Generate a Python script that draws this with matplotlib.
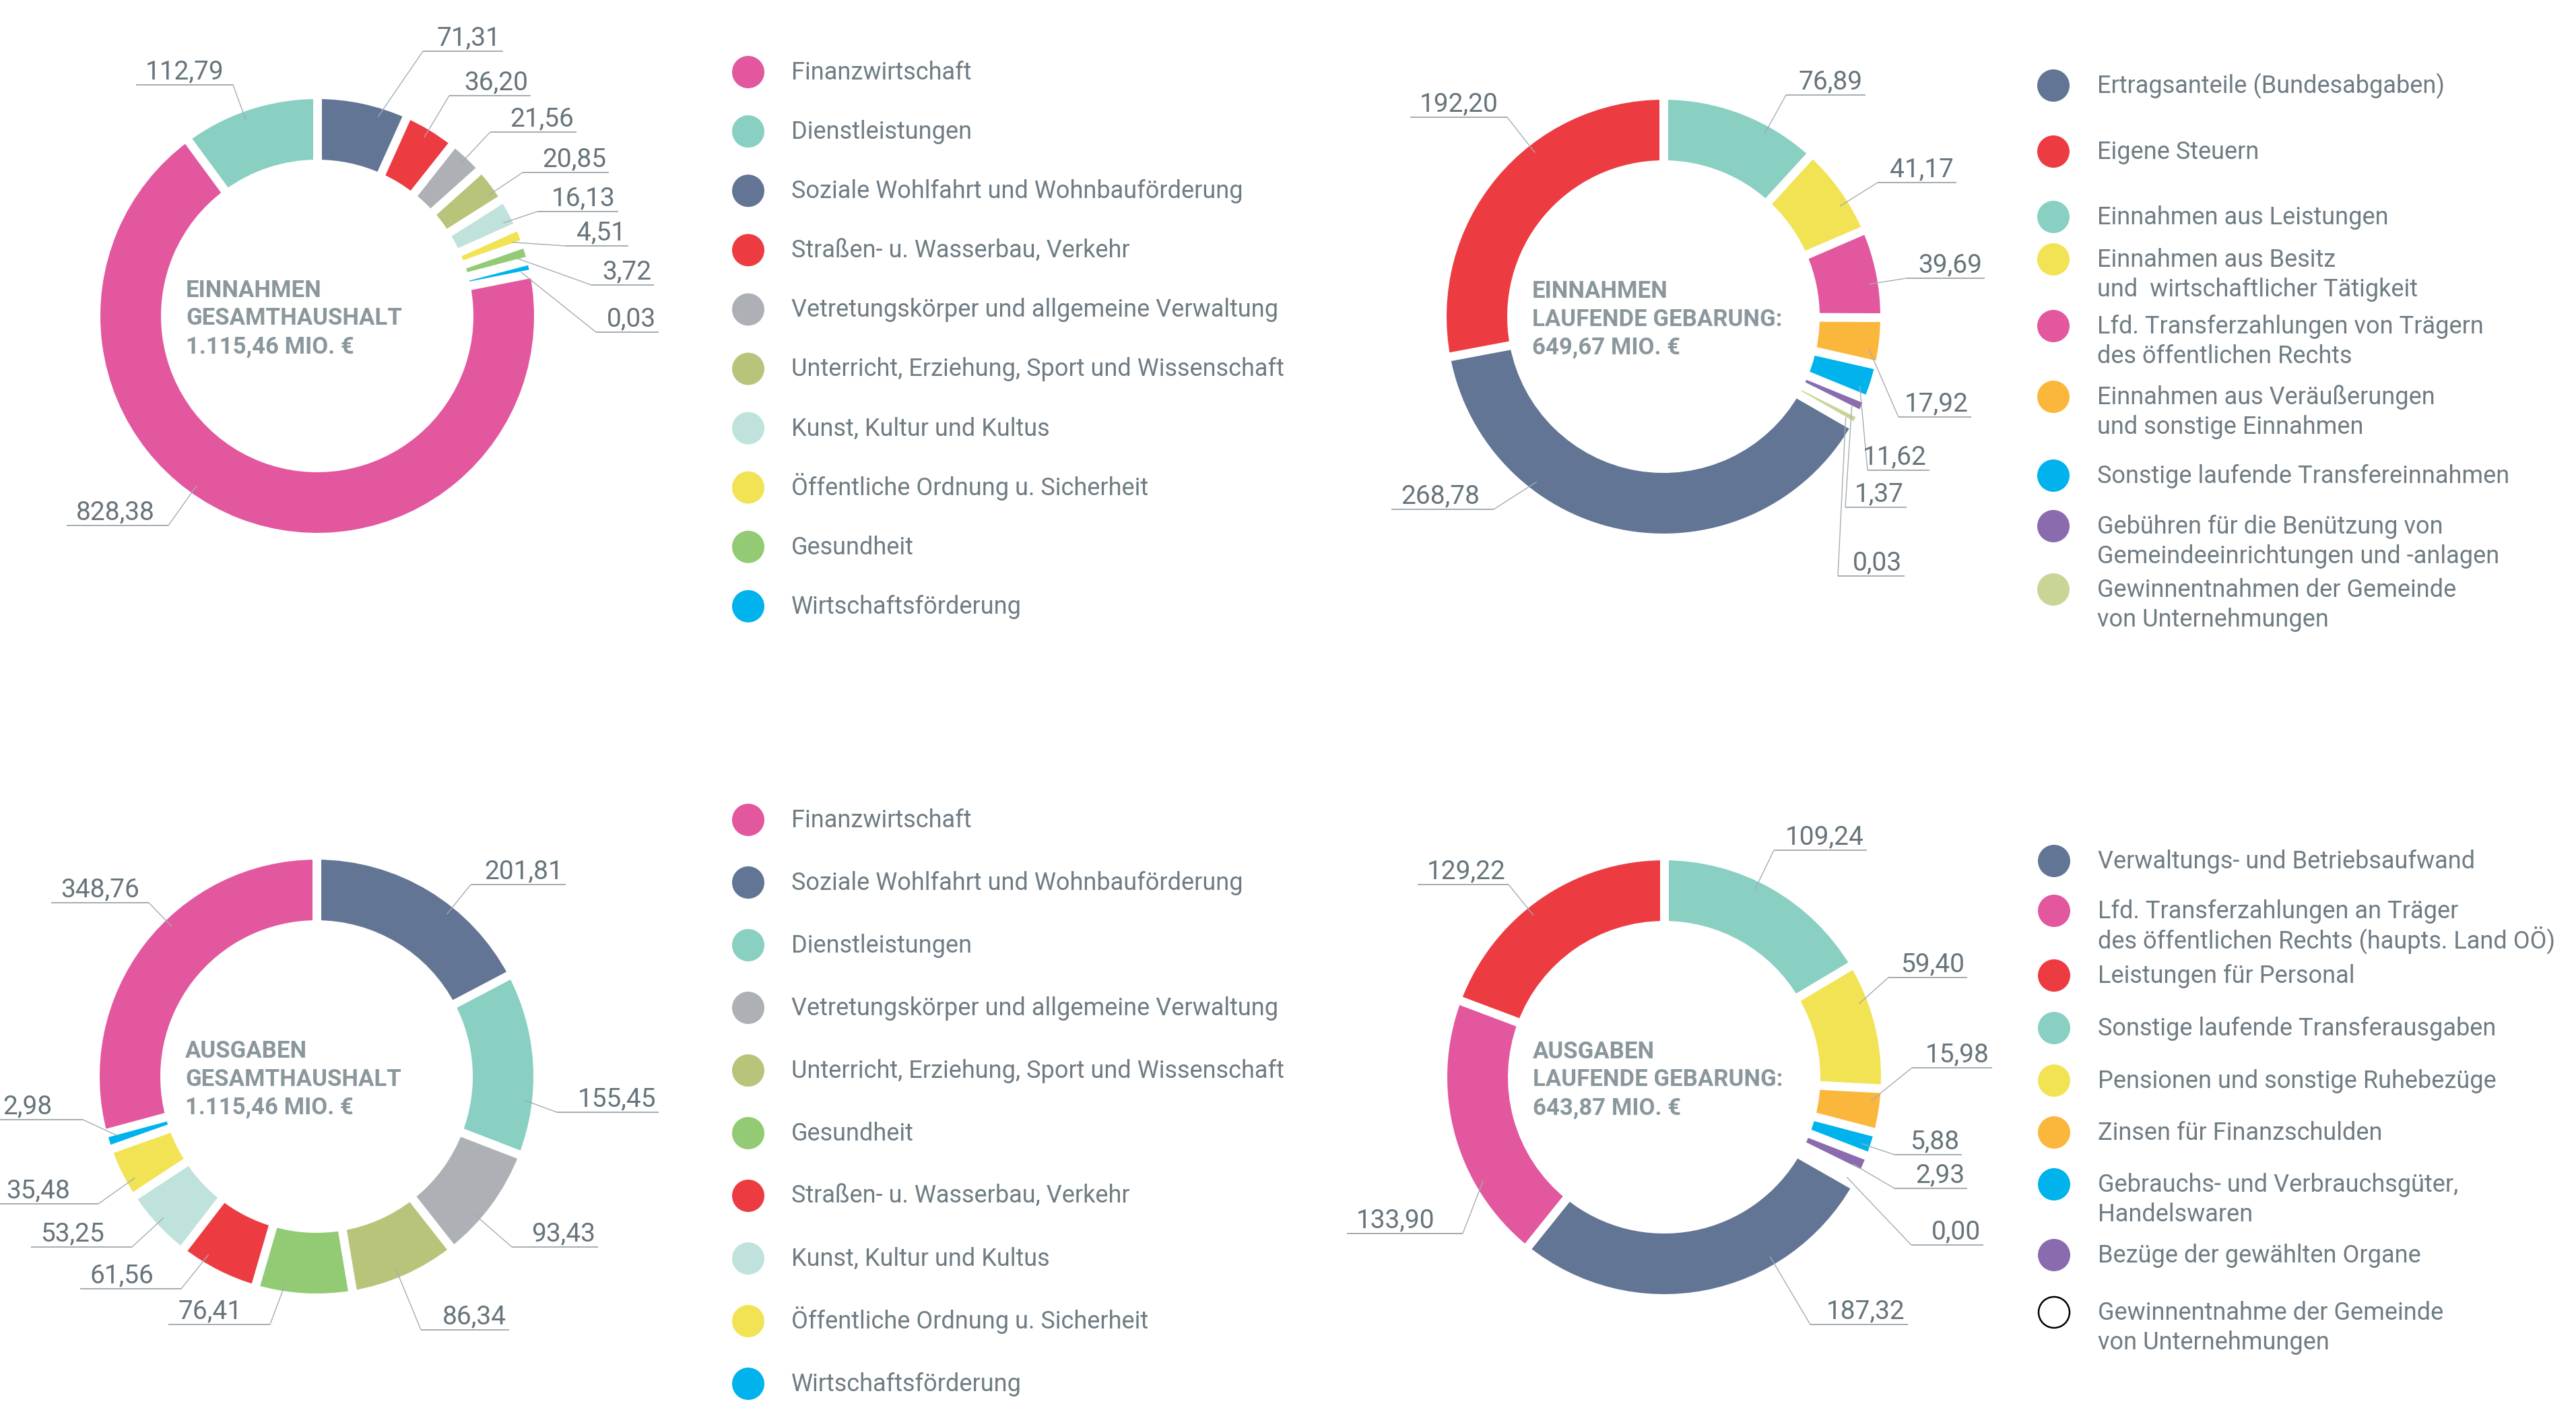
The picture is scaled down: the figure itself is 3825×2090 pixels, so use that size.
import matplotlib
matplotlib.use("Agg")
import matplotlib.pyplot as plt
from matplotlib.patches import Wedge, Circle
import numpy as np

plt.rcParams['font.family'] = ['Roboto', 'DejaVu Sans']

# ---------------- DATA ----------------
# Chart 1: Einnahmen Gesamthaushalt (legend order)
c1_categories = ["Finanzwirtschaft", "Dienstleistungen",
                 "Soziale Wohlfahrt und Wohnbauförderung",
                 "Straßen- u. Wasserbau, Verkehr",
                 "Vetretungskörper und allgemeine Verwaltung",
                 "Unterricht, Erziehung, Sport und Wissenschaft",
                 "Kunst, Kultur und Kultus",
                 "Öffentliche Ordnung u. Sicherheit",
                 "Gesundheit", "Wirtschaftsförderung"]
c1_values = [828.38, 112.79, 71.31, 36.20, 21.56, 20.85, 16.13, 4.51, 3.72, 0.03]
c1_slice_order = [2, 3, 4, 5, 6, 7, 8, 9, 0, 1]
c1_title = ["EINNAHMEN", "GESAMTHAUSHALT", "1.115,46 MIO. €"]

# Chart 2: Einnahmen laufende Gebarung
c2_categories = ["Ertragsanteile (Bundesabgaben)", "Eigene Steuern",
                 "Einnahmen aus Leistungen",
                 "Einnahmen aus Besitz\nund  wirtschaftlicher Tätigkeit",
                 "Lfd. Transferzahlungen von Trägern\ndes öffentlichen Rechts",
                 "Einnahmen aus Veräußerungen\nund sonstige Einnahmen",
                 "Sonstige laufende Transfereinnahmen",
                 "Gebühren für die Benützung von\nGemeindeeinrichtungen und -anlagen",
                 "Gewinnentnahmen der Gemeinde\nvon Unternehmungen"]
c2_values = [268.78, 192.20, 76.89, 41.17, 39.69, 17.92, 11.62, 1.37, 0.03]
c2_slice_order = [2, 3, 4, 5, 6, 7, 8, 0, 1]
c2_title = ["EINNAHMEN", "LAUFENDE GEBARUNG:", "649,67 MIO. €"]

# Chart 3: Ausgaben Gesamthaushalt
c3_categories = ["Finanzwirtschaft", "Soziale Wohlfahrt und Wohnbauförderung",
                 "Dienstleistungen",
                 "Vetretungskörper und allgemeine Verwaltung",
                 "Unterricht, Erziehung, Sport und Wissenschaft",
                 "Gesundheit", "Straßen- u. Wasserbau, Verkehr",
                 "Kunst, Kultur und Kultus",
                 "Öffentliche Ordnung u. Sicherheit", "Wirtschaftsförderung"]
c3_values = [348.76, 201.81, 155.45, 93.43, 86.34, 76.41, 61.56, 53.25, 35.48, 2.98]
c3_slice_order = [1, 2, 3, 4, 5, 6, 7, 8, 9, 0]
c3_title = ["AUSGABEN", "GESAMTHAUSHALT", "1.115,46 MIO. €"]

# Chart 4: Ausgaben laufende Gebarung
c4_categories = ["Verwaltungs- und Betriebsaufwand",
                 "Lfd. Transferzahlungen an Träger\ndes öffentlichen Rechts (haupts. Land OÖ)",
                 "Leistungen für Personal",
                 "Sonstige laufende Transferausgaben",
                 "Pensionen und sonstige Ruhebezüge",
                 "Zinsen für Finanzschulden",
                 "Gebrauchs- und Verbrauchsgüter,\nHandelswaren",
                 "Bezüge der gewählten Organe",
                 "Gewinnentnahme der Gemeinde\nvon Unternehmungen"]
c4_values = [187.32, 133.90, 129.22, 109.24, 59.40, 15.98, 5.88, 2.93, 0.00]
c4_slice_order = [3, 4, 5, 6, 7, 8, 0, 1, 2]
c4_title = ["AUSGABEN", "LAUFENDE GEBARUNG:", "643,87 MIO. €"]

# ---------------- STYLE / LAYOUT ----------------
PINK, TEAL, SLATE, RED = '#e2579e', '#89cfc2', '#627594', '#ec3c42'
GRAY, OLIVE, PALE, YELLOW = '#adb1b5', '#b9c47b', '#bfe3dc', '#f2e354'
GREEN, CYAN, ORANGE, PURPLE, LOLIVE = '#92cb73', '#00b3ec', '#fbb63c', '#8a6cae', '#c8d597'

c1_colors = [PINK, TEAL, SLATE, RED, GRAY, OLIVE, PALE, YELLOW, GREEN, CYAN]
c2_colors = [SLATE, RED, TEAL, YELLOW, PINK, ORANGE, CYAN, PURPLE, LOLIVE]
c3_colors = [PINK, SLATE, TEAL, GRAY, OLIVE, GREEN, RED, PALE, YELLOW, CYAN]
c4_colors = [SLATE, PINK, RED, TEAL, YELLOW, ORANGE, CYAN, PURPLE, 'white']

LABEL_COL = '#66747c'
LEGEND_COL = '#6f7c84'
TITLE_COL = '#8a979d'
LINE_COL = '#a3acb1'

# label elbows (x, y, underline length) in slice order
c1_label_pos = [(628, 76, 119), (667, 142, 121), (728, 196, 128), (776, 256, 128),
                (798, 314, 120), (840, 365, 93), (878, 423, 93), (885, 493, 93),
                (250, 780, 151), (346, 126, 144)]
c2_label_pos = [(2652, 141, 118), (2788, 271, 117), (2831, 413, 116), (2819, 619, 108),
                (2773, 698, 92), (2740, 753, 91), (2729, 855, 99),
                (2218, 756, 152), (2238, 174, 144)]
c3_label_pos = [(699, 1313, 141), (827, 1651, 151), (760, 1851, 128), (625, 1974, 131),
                (401, 1966, 151), (269, 1913, 150), (196, 1851, 150), (146, 1787, 151),
                (123, 1662, 146), (221, 1340, 145)]
c4_label_pos = [(2634, 1262, 138), (2804, 1451, 117), (2839, 1585, 119), (2813, 1714, 100),
                (2813, 1764, 108), (2838, 1848, 107), (2688, 1966, 145),
                (2172, 1831, 172), (2240, 1313, 135)]

centers = [(471, 469), (2470, 470), (470, 1598), (2471, 1599)]
R_OUT = 322
R_IN = 232
GAP_PX = 13

leg1_y = [107 + 88.1 * i for i in range(10)]
leg2_y = [127, 225, 322, 385, 484, 589, 706, 781, 875]
leg3_y = [1217 + 93 * i for i in range(10)]
leg4_y = [1278, 1352, 1448, 1526, 1604, 1681, 1758, 1863, 1948]

W, H = 3825, 2090
fig = plt.figure(figsize=(W / 100, H / 100), dpi=100)
ax = fig.add_axes([0, 0, 1, 1])
ax.set_xlim(0, W)
ax.set_ylim(H, 0)
ax.axis('off')

PX2PT = 72 / 100.0


def fmt(v):
    return f"{v:.2f}".replace('.', ',')


def pol(cx, cy, r, phi):
    th = np.radians(phi - 90)
    return cx + r * np.cos(th), cy + r * np.sin(th)


def donut(center, values, colors, order, label_pos, title):
    cx, cy = center
    n = len(values)
    total = float(sum(values))
    gpad = np.degrees(GAP_PX / R_IN) + 0.3
    avail = 360.0 - n * gpad
    phi = 0.0
    bounds = []
    for k, idx in enumerate(order):
        v = values[idx]
        span = v / total * avail + gpad
        a0, a1 = phi, phi + span
        ax.add_patch(Wedge((cx, cy), R_OUT, a0 - 90, a1 - 90, width=R_OUT - R_IN,
                           facecolor=colors[idx], edgecolor='none', zorder=2))
        bounds.append(a0)
        ex, ey, L = label_pos[k]
        # leader target: direction of the label, clamped into the slice
        phe = np.degrees(np.arctan2(ex - cx, -(ey - cy))) % 360
        lo, hi = a0 + 0.3 * span, a1 - 0.3 * span
        cands = [phe - 360, phe, phe + 360]
        best = min(cands, key=lambda p: abs(min(max(p, lo), hi) - p))
        pt = min(max(best, lo), hi)
        mx, my = pol(cx, cy, 0.96 * R_OUT, pt)
        right = ex > cx
        ax.plot([mx, ex], [my, ey], color=LINE_COL, lw=1.0, zorder=4,
                solid_capstyle='butt')
        if right:
            ax.plot([ex, ex + L], [ey, ey], color=LINE_COL, lw=1.4, zorder=4,
                    solid_capstyle='butt')
            ax.text(ex + L - 4, ey - 9, fmt(v), ha='right', va='baseline',
                    fontsize=28, color=LABEL_COL, zorder=5)
        else:
            ax.plot([ex - L, ex], [ey, ey], color=LINE_COL, lw=1.4, zorder=4,
                    solid_capstyle='butt')
            ax.text(max(ex - L + 14, 4), ey - 9, fmt(v), ha='left', va='baseline',
                    fontsize=28, color=LABEL_COL, zorder=5)
        phi = a1
    for b in bounds:
        x0, y0 = pol(cx, cy, R_IN - 4, b)
        x1, y1 = pol(cx, cy, R_OUT + 4, b)
        ax.plot([x0, x1], [y0, y1], color='white', lw=GAP_PX * PX2PT,
                solid_capstyle='butt', zorder=3)
    for j, line in enumerate(title):
        ax.text(cx - 195, cy - 28 + j * 41.5, line, ha='left', va='baseline',
                fontsize=25, fontweight='bold', color=TITLE_COL, zorder=5)


def legend(dot_x, text_x, ys, cats, colors):
    for y, cat, col in zip(ys, cats, colors):
        if col == 'white':
            ax.add_patch(Circle((dot_x, y), 23, facecolor='white', edgecolor='black',
                                lw=2.5 * PX2PT, zorder=3))
        else:
            ax.add_patch(Circle((dot_x, y), 24, facecolor=col, edgecolor='none', zorder=3))
        for j, line in enumerate(cat.split('\n')):
            ax.text(text_x, y + 11 + j * 44, line, ha='left', va='baseline',
                    fontsize=26, fontweight='normal', color=LEGEND_COL)


donut(centers[0], c1_values, c1_colors, c1_slice_order, c1_label_pos, c1_title)
donut(centers[1], c2_values, c2_colors, c2_slice_order, c2_label_pos, c2_title)
donut(centers[2], c3_values, c3_colors, c3_slice_order, c3_label_pos, c3_title)
donut(centers[3], c4_values, c4_colors, c4_slice_order, c4_label_pos, c4_title)

legend(1111, 1175, leg1_y, c1_categories, c1_colors)
legend(3049, 3114, leg2_y, c2_categories, c2_colors)
legend(1111, 1175, leg3_y, c3_categories, c3_colors)
legend(3050, 3115, leg4_y, c4_categories, c4_colors)

fig.savefig("out.png", dpi=100, facecolor='white')
